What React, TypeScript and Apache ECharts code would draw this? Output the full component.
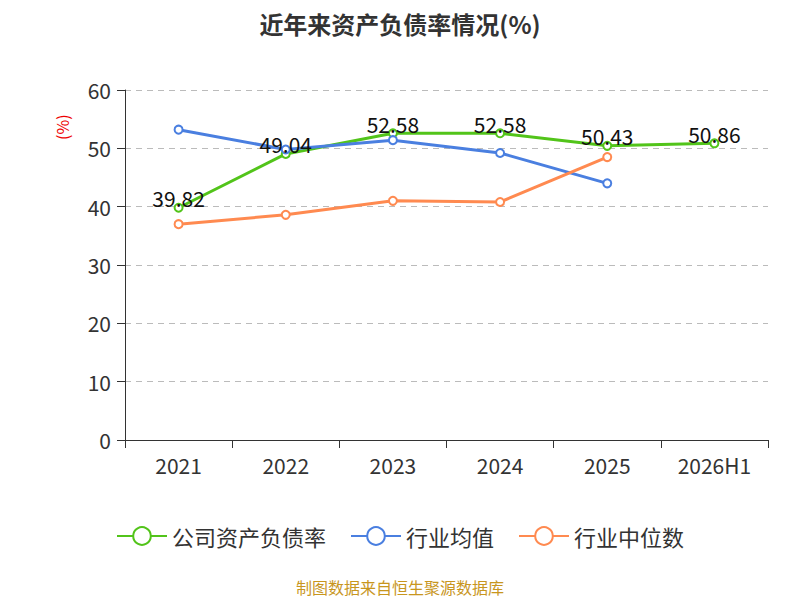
import { useEffect, useRef } from 'react';
import * as echarts from 'echarts';

const categories = ['2021', '2022', '2023', '2024', '2025', '2026H1'];
const companyRatio = [39.82, 49.04, 52.58, 52.58, 50.43, 50.86];
const industryAvg: (number | null)[] = [53.2, 49.8, 51.4, 49.2, 44.0, null];
const industryMedian: (number | null)[] = [37.0, 38.6, 41.0, 40.8, 48.5, null];

export default function App() {
    const ref = useRef<HTMLDivElement>(null);

    useEffect(() => {
        if (!ref.current) return;
        const chart = echarts.init(ref.current, undefined, { renderer: 'svg' });
        const font = "'Noto Sans CJK SC', 'Noto Sans', sans-serif";
        const dot = { symbol: 'emptyCircle', symbolSize: 8, showSymbol: true };

        chart.setOption({
            animation: false,
            textStyle: { fontFamily: font },
            title: {
                text: '近年来资产负债率情况(%)',
                left: 'center',
                top: 6,
                textStyle: { fontSize: 24, fontWeight: 'bold', color: '#333' }
            },
            grid: { left: 125, right: 32, top: 90, bottom: 160 },
            legend: {
                bottom: 48,
                itemWidth: 50,
                itemHeight: 22,
                itemGap: 24,
                textStyle: { fontSize: 22, color: '#333' },
                data: ['公司资产负债率', '行业均值', '行业中位数']
            },
            graphic: [
                {
                    type: 'text',
                    left: 'center',
                    top: 579,
                    style: { text: '制图数据来自恒生聚源数据库', fill: '#c8961e', fontSize: 16, fontFamily: font }
                },
                {
                    type: 'text',
                    x: 54,
                    y: 140,
                    rotation: Math.PI / 2,
                    style: { text: '(%)', fill: '#e00', fontSize: 16, fontFamily: font }
                }
            ],
            xAxis: {
                type: 'category',
                data: categories,
                axisTick: { show: true, length: 8 },
                axisLine: { lineStyle: { color: '#333' } },
                axisLabel: { fontSize: 21, color: '#333', margin: 14 }
            },
            yAxis: {
                type: 'value',
                min: 0,
                max: 60,
                interval: 10,
                axisLine: { show: true, lineStyle: { color: '#333' } },
                axisTick: { show: true, length: 8 },
                axisLabel: { fontSize: 21, color: '#333', margin: 14 },
                splitLine: { lineStyle: { type: [6, 5], color: '#bbb', width: 1.2 } }
            },
            series: [
                {
                    name: '公司资产负债率',
                    type: 'line',
                    data: companyRatio,
                    ...dot,
                    itemStyle: { color: '#52c41a', borderColor: '#52c41a', borderWidth: 1.5 },
                    lineStyle: { width: 3, color: '#52c41a' },
                    label: { show: true, position: 'top', fontSize: 21, color: '#111', distance: -6 },
                    z: 3
                },
                {
                    name: '行业均值',
                    type: 'line',
                    data: industryAvg,
                    ...dot,
                    itemStyle: { color: '#4a7fe0', borderWidth: 1.5 },
                    lineStyle: { width: 3, color: '#4a7fe0' }
                },
                {
                    name: '行业中位数',
                    type: 'line',
                    data: industryMedian,
                    ...dot,
                    itemStyle: { color: '#ff8a50', borderWidth: 1.5 },
                    lineStyle: { width: 3, color: '#ff8a50' }
                }
            ]
        });

        return () => chart.dispose();
    }, []);

    return <div ref={ref} style={{ position: 'absolute', left: 0, top: 0, width: 800, height: 600 }} />;
}
